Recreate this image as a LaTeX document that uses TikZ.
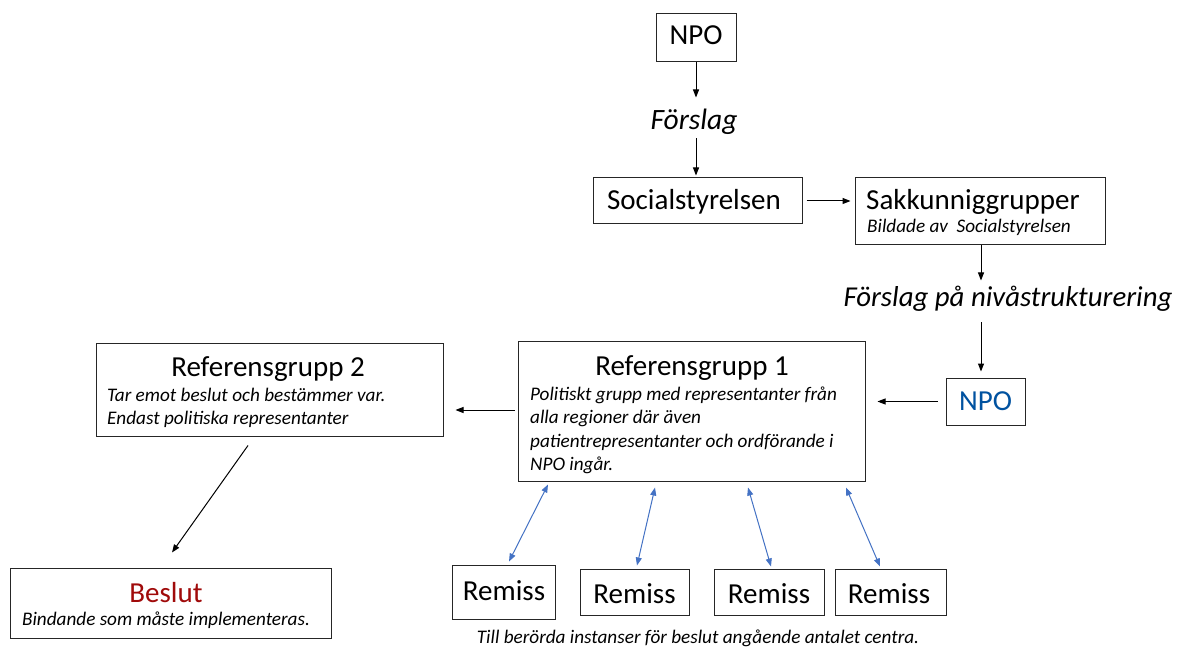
\documentclass[tikz,border=0pt]{standalone}
\usepackage{fontspec}
\setmainfont{Carlito}
\usetikzlibrary{arrows.meta,calc}
\definecolor{npoblue}{RGB}{0,82,160}
\definecolor{beslutred}{RGB}{160,10,10}
\definecolor{arrblue}{RGB}{68,114,196}
\tikzset{
 box/.style={draw=black!85, line width=1pt, inner sep=0pt},
 big/.style={font=\fontsize{29}{35}\selectfont, inner sep=0pt, anchor=base},
 bigit/.style={font=\fontsize{29.5}{35}\selectfont\itshape, inner sep=0pt, anchor=base},
 small/.style={font=\fontsize{19.2}{23.5}\selectfont\itshape, inner sep=0pt, anchor=base west},
 arr/.style={line width=1pt, -{Triangle[length=8pt,width=6pt]}},
 darr/.style={draw=arrblue, line width=1pt, {Triangle[length=8pt,width=6pt]}-{Triangle[length=8pt,width=6pt]}},
}
\begin{document}
\begin{tikzpicture}[x=1pt,y=-1pt]
\fill[white] (0,0) rectangle (1179,647);
\useasboundingbox (0,0) rectangle (1179,647);

% boxes
\node[box, minimum width=80, minimum height=48] (npoA) at (696,38) {};
\node[box, minimum width=209, minimum height=46] (socA) at (697.5,201) {};
\node[box, minimum width=250, minimum height=67] (sakA) at (980,211.5) {};
\node[box, minimum width=79, minimum height=47] (npoB) at (985.5,401.5) {};
\node[box, minimum width=347, minimum height=140] (ref1) at (691.5,411) {};
\node[box, minimum width=347, minimum height=93] (ref2) at (269.5,389.5) {};
\node[box, minimum width=321, minimum height=70] (beslut) at (170.5,603) {};
\node[box, minimum width=103, minimum height=54] (r1) at (503.5,592) {};
\node[box, minimum width=109, minimum height=46] (r2) at (634.5,592) {};
\node[box, minimum width=110, minimum height=46] (r3) at (769,592) {};
\node[box, minimum width=111, minimum height=46] (r4) at (890.5,592) {};

% texts
\node[big] (tnpoA) at (696,45) {NPO};
\node[bigit] (forslagA) at (694,130) {Förslag};
\node[big] (tsoc) at (694,210) {Socialstyrelsen};
\node[big, anchor=base west] (tsak) at (866,210) {Sakkunniggrupper};
\node[small] (tsak2) at (867,233) {Bildade av\ \ Socialstyrelsen};
\node[bigit, font=\fontsize{28.8}{35}\selectfont\itshape] (forslagB) at (1008,307) {Förslag på nivåstrukturering};
\node[big, text=npoblue] (tnpoB) at (985.5,410) {NPO};

\node[big] (tref1) at (692,375) {Referensgrupp 1};
\node[small] (ref1a) at (530,400) {Politiskt grupp med representanter från};
\node[small] (ref1b) at (530,423.5) {alla regioner där även};
\node[small] (ref1c) at (530,447) {patientrepresentanter och ordförande i};
\node[small] (ref1d) at (530,470.5) {NPO ingår.};

\node[big] (tref2) at (268,376) {Referensgrupp 2};
\node[small] (ref2a) at (107,401) {Tar emot beslut och bestämmer var.};
\node[small] (ref2b) at (107,424.5) {Endast politiska representanter};

\node[big, text=beslutred] (tbes) at (166,602) {Beslut};
\node[small, anchor=base] (tbes2) at (166,625) {Bindande som måste implementeras.};

\node[big] (tr1) at (504,600) {Remiss};
\node[big] (tr2) at (634.5,603) {Remiss};
\node[big] (tr3) at (769,603) {Remiss};
\node[big] (tr4) at (889,603) {Remiss};

\node[small, anchor=base] (caption) at (698,643) {Till berörda instanser för beslut angående antalet centra.};

% black arrows
\draw[arr] (npoA.south) -- ($(npoA.south)+(0,35)$);
\draw[arr] ($(npoA.south)+(0,76)$) -- ($(npoA.south)+(0,113)$);
\draw[arr] ([xshift=4pt]socA.east) -- ([xshift=-4pt]sakA.west |- socA.east);
\draw[arr] ($(sakA.south)+(1,0)$) -- ($(sakA.south)+(1,35)$);
\draw[arr] ($(sakA.south)+(1,77)$) -- ($(npoB.north -| sakA.south)+(1,-6)$);
\draw[arr] ([xshift=-8pt]npoB.west) -- ([xshift=12pt]ref1.east |- npoB.west);
\draw[arr] ($(ref1.west)+(-3,-1)$) -- ($(ref2.east)+(12,20.5)$);
\draw[arr] ($(ref2.south)+(-21.5,9)$) -- ($(beslut.north)+(1.5,-15)$);

% blue double arrows
\draw[darr] ($(ref1.south)+(-143.5,3)$) -- ($(r1.north)+(5.5,-3)$);
\draw[darr] ($(ref1.south)+(-36.5,6)$) -- ($(r2.north)+(2.5,-3)$);
\draw[darr] ($(ref1.south)+(56.5,6)$) -- ($(r3.north)+(2,-2)$);
\draw[darr] ($(ref1.south)+(154.5,6)$) -- ($(r4.north)+(-10.5,-2)$);
\end{tikzpicture}
\end{document}
